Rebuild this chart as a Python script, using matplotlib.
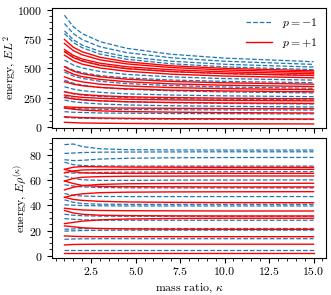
import matplotlib
matplotlib.use("Agg")
import matplotlib.pyplot as plt

plt.rcParams['font.family'] = ['cmr10', 'DejaVu Serif']
plt.rcParams['mathtext.fontset'] = 'cm'
plt.rcParams['axes.formatter.use_mathtext'] = True
plt.rcParams['font.size'] = 8.5

kappa = [1, 1.5, 2, 3, 4.5, 7, 10, 15]

# top panel: E L^2
top_minus = [
    [957, 858, 799, 730, 673, 622, 589, 558],
    [886, 799, 747, 686, 636, 592, 562, 535],
    [823, 746, 700, 646, 601, 562, 536, 512],
    [800, 723, 678, 623, 579, 540, 514, 490],
    [650, 598, 567, 530, 500, 474, 456, 440],
    [572, 529, 504, 474, 449, 428, 413, 400],
    [520, 485, 464, 439, 419, 401, 389, 378],
    [470, 435, 415, 390, 370, 353, 341, 330],
    [400, 373, 357, 337, 322, 308, 299, 290],
    [343, 322, 309, 295, 282, 272, 265, 258],
    [300, 283, 272, 260, 250, 241, 236, 230],
    [260, 244, 234, 223, 214, 206, 200, 195],
    [229, 214, 206, 195, 187, 180, 175, 170],
    [160, 156, 153, 150, 148, 146, 144, 143],
    [129, 124, 122, 118, 116, 113, 112, 110],
    [80, 76, 73, 70, 67, 65, 63, 62],
]
top_plus = [
    [749, 682, 643, 596, 557, 523, 501, 480],
    [714, 653, 617, 574, 539, 508, 487, 468],
    [663, 612, 581, 545, 515, 489, 471, 455],
    [643, 593, 563, 527, 498, 473, 456, 440],
    [614, 566, 537, 504, 476, 451, 435, 420],
    [514, 477, 455, 429, 408, 389, 377, 365],
    [486, 451, 430, 406, 386, 368, 356, 345],
    [428, 401, 385, 365, 350, 336, 327, 318],
    [386, 365, 352, 337, 325, 314, 307, 300],
    [300, 285, 276, 266, 257, 250, 245, 240],
    [272, 260, 252, 244, 236, 230, 226, 222],
    [250, 238, 230, 222, 214, 208, 204, 200],
    [171, 167, 165, 162, 160, 158, 156, 155],
    [160, 150, 143, 136, 130, 125, 121, 118],
    [86, 81, 78, 75, 72, 69, 68, 66],
    [38, 35, 32, 30, 28, 26, 25, 24],
]

# bottom panel: E rho^(kappa)
bot_minus = [
    [88.5, 89.0, 87.0, 85.2, 84.5, 84.3, 84.2, 84.2],
    [81.5, 81.8, 82.2, 82.5, 82.6, 82.7, 82.8, 82.8],
    [76.5, 75.8, 76.0, 77.0, 77.6, 78.0, 78.2, 78.3],
    [74.5, 72.5, 71.8, 71.5, 71.4, 71.4, 71.4, 71.4],
    [66.5, 65.8, 66.0, 66.3, 66.6, 66.8, 66.9, 67.0],
    [63.5, 61.5, 60.5, 60.0, 60.0, 60.2, 60.3, 60.4],
    [56.5, 55.5, 54.8, 54.3, 54.1, 54.0, 54.0, 54.0],
    [49.5, 48.0, 47.5, 47.2, 47.1, 47.1, 47.1, 47.1],
    [44.5, 42.5, 41.5, 41.0, 40.9, 40.9, 40.9, 40.9],
    [40.5, 40.2, 39.9, 39.7, 39.6, 39.6, 39.6, 39.6],
    [33.0, 32.2, 31.8, 31.5, 31.4, 31.4, 31.4, 31.4],
    [29.5, 29.0, 28.6, 28.3, 28.2, 28.2, 28.2, 28.2],
    [21.0, 21.3, 21.5, 21.6, 21.6, 21.6, 21.6, 21.6],
    [19.5, 19.8, 20.0, 20.2, 20.3, 20.3, 20.3, 20.3],
    [13.0, 13.3, 13.4, 13.5, 13.5, 13.5, 13.5, 13.5],
    [4.5, 4.5, 4.5, 4.5, 4.5, 4.5, 4.5, 4.5],
]
bot_plus = [
    [1.9, 1.9, 1.9, 1.9, 1.9, 1.9, 1.9, 1.9],
    [8.5, 8.9, 9.0, 9.1, 9.1, 9.1, 9.1, 9.1],
    [15.7, 15.4, 15.2, 15.1, 15.1, 15.1, 15.1, 15.1],
    [23.7, 23.0, 22.2, 21.6, 21.3, 21.1, 21.0, 21.0],
    [25.5, 26.5, 27.5, 28.5, 29.2, 29.6, 29.8, 29.8],
    [36.0, 34.0, 33.0, 32.2, 31.9, 31.7, 31.6, 31.6],
    [37.8, 37.0, 36.4, 36.0, 35.8, 35.7, 35.6, 35.6],
    [46.5, 44.8, 44.0, 43.3, 42.8, 42.5, 42.3, 42.2],
    [46.5, 48.3, 49.3, 50.2, 50.6, 50.8, 50.9, 51.0],
    [52.4, 54.5, 55.8, 56.8, 57.3, 57.5, 57.6, 57.7],
    [59.5, 57.5, 56.0, 55.2, 55.0, 54.9, 54.8, 54.8],
    [59.5, 61.5, 62.5, 63.0, 63.3, 63.4, 63.5, 63.5],
    [68.8, 67.0, 66.0, 65.7, 65.6, 65.6, 65.6, 65.6],
    [68.8, 70.5, 71.0, 70.8, 70.6, 70.5, 70.4, 70.4],
    [66.0, 67.5, 68.3, 68.6, 68.7, 68.8, 68.8, 68.8],
]

blue = '#1f77b4'
red = '#ff0000'

fig = plt.figure(figsize=(3.31, 2.95), dpi=100)
ax1 = fig.add_axes([52/331, 1-128/295, 274/331, 120/295])
ax2 = fig.add_axes([52/331, 1-258/295, 274/331, 120/295], sharex=ax1)

for i, ys in enumerate(top_minus):
    ax1.plot(kappa, ys, '--', color=blue, lw=0.9, label=r'$p=-1$' if i == 0 else None)
for i, ys in enumerate(top_plus):
    ax1.plot(kappa, ys, '-', color=red, lw=1.0, label=r'$p=+1$' if i == 0 else None)
for ys in bot_minus:
    ax2.plot(kappa, ys, '--', color=blue, lw=0.9)
for ys in bot_plus:
    ax2.plot(kappa, ys, '-', color=red, lw=1.0)

ax1.set_ylim(-11, 1019)
ax1.set_yticks([0, 250, 500, 750, 1000])
ax2.set_ylim(-1.9, 93.8)
ax2.set_yticks([0, 20, 40, 60, 80])
ax2.set_xticks([2.5, 5.0, 7.5, 10.0, 12.5, 15.0])
ax2.set_xticklabels(['2.5', '5.0', '7.5', '10.0', '12.5', '15.0'])
plt.setp(ax1.get_xticklabels(), visible=False)

for ax in (ax1, ax2):
    ax.minorticks_on()
    ax.tick_params(which='both', direction='out', labelsize=8.5)
    ax.tick_params(which='major', length=3.5, width=0.8)
    ax.tick_params(which='minor', length=2, width=0.6)

ax1.set_ylabel(r'energy, $EL^2$', fontsize=8.5)
ax2.set_ylabel(r'energy, $E\rho^{(\kappa)}$', fontsize=8.5)
ax1.yaxis.set_label_coords(-0.124, 0.5)
ax2.yaxis.set_label_coords(-0.085, 0.5)
ax2.set_xlabel(r'mass ratio, $\kappa$', fontsize=8.5, labelpad=3)
ax1.legend(loc='upper right', frameon=False, handlelength=2.2, borderaxespad=0.3,
           fontsize=8.5)

fig.savefig('out.png', dpi=100)
